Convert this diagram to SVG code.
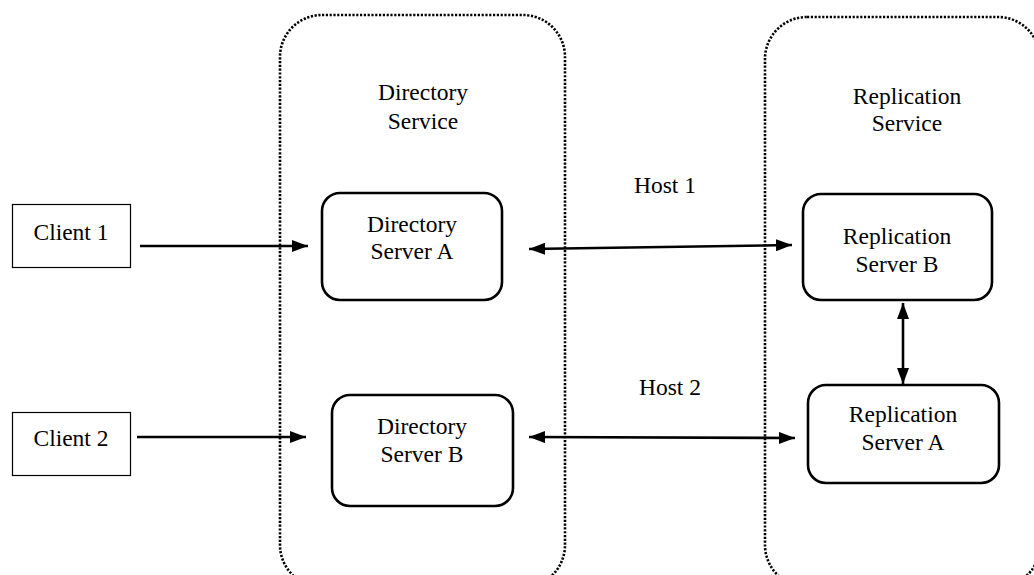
<svg xmlns="http://www.w3.org/2000/svg" width="1034" height="575" viewBox="0 0 1034 575">
<style>
text{font-family:"Liberation Serif","Times New Roman",serif;font-size:23.5px;fill:#000;text-anchor:middle}
.cont{fill:none;stroke:#000;stroke-width:2.6;stroke-dasharray:2.2 1.6}
.node{fill:#fff;stroke:#000;stroke-width:2.6}
.client{fill:#fff;stroke:#000;stroke-width:1.2}
.conn{fill:none;stroke:#000;stroke-width:2.6}
</style>
<defs>
<marker id="ah" viewBox="0 0 16 12" refX="16" refY="6" markerWidth="16" markerHeight="12" markerUnits="userSpaceOnUse" orient="auto-start-reverse">
<path d="M0,0 L16,6 L0,12 Z" fill="#000"/>
</marker>
</defs>
<rect width="1034" height="575" fill="#fff"/>
<g id="directory-service">
<rect class="cont" x="280" y="15" width="285" height="572" rx="42"/>
<text x="423" y="100">Directory</text>
<text x="423" y="129">Service</text>
</g>
<g id="replication-service">
<rect class="cont" x="765" y="17" width="275" height="570" rx="42"/>
<text x="907" y="104">Replication</text>
<text x="907" y="131">Service</text>
</g>
<g id="client1">
<rect class="client" x="12.5" y="204.5" width="118" height="63"/>
<text x="71" y="240">Client 1</text>
</g>
<g id="client2">
<rect class="client" x="12.5" y="412.5" width="118" height="63"/>
<text x="71" y="446">Client 2</text>
</g>
<g id="dir-server-a">
<rect class="node" x="322" y="193" width="180" height="107" rx="18"/>
<text x="412" y="232">Directory</text>
<text x="412" y="259">Server A</text>
</g>
<g id="dir-server-b">
<rect class="node" x="332" y="395" width="181" height="111" rx="18"/>
<text x="422" y="434">Directory</text>
<text x="422" y="462">Server B</text>
</g>
<g id="rep-server-b">
<rect class="node" x="803" y="194" width="189" height="106" rx="18"/>
<text x="897" y="244">Replication</text>
<text x="897" y="272">Server B</text>
</g>
<g id="rep-server-a">
<rect class="node" x="808" y="385" width="191" height="98" rx="18"/>
<text x="903" y="422">Replication</text>
<text x="903" y="450">Server A</text>
</g>
<g id="connectors">
<line class="conn" x1="140" y1="246" x2="308" y2="246" marker-end="url(#ah)"/>
<line class="conn" x1="137" y1="437" x2="306" y2="437" marker-end="url(#ah)"/>
<line class="conn" x1="529" y1="249" x2="792" y2="245" marker-start="url(#ah)" marker-end="url(#ah)"/>
<line class="conn" x1="529" y1="437" x2="795" y2="438" marker-start="url(#ah)" marker-end="url(#ah)"/>
<line class="conn" x1="903" y1="303" x2="903" y2="384" marker-start="url(#ah)" marker-end="url(#ah)"/>
</g>
<g id="labels">
<text x="665" y="193">Host 1</text>
<text x="670" y="395">Host 2</text>
</g>
</svg>
